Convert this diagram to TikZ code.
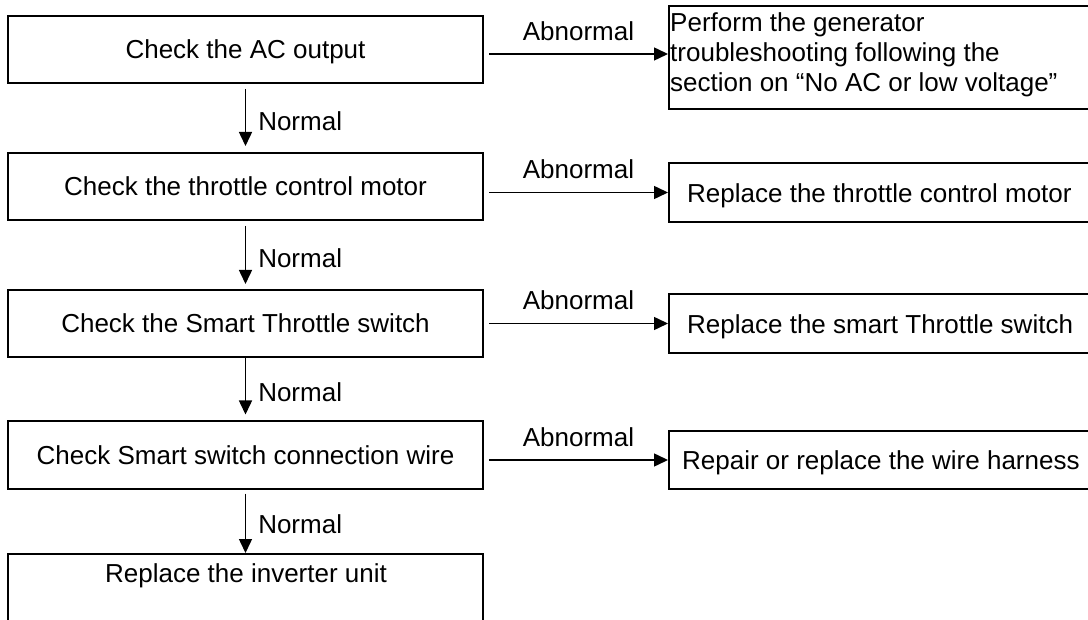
\documentclass[tikz,border=0pt]{standalone}
\usepackage{fontspec}
\setmainfont{Liberation Sans}
\usetikzlibrary{arrows.meta}
\begin{document}
\begin{tikzpicture}[x=1pt,y=-1pt,font=\fontsize{26}{30}\selectfont,
  lbox/.style={draw, line width=2pt, minimum width=475pt, minimum height=67pt, inner sep=0pt, text height=18.6pt, text depth=0pt},
  rbox/.style={draw, line width=2pt, anchor=north west, minimum width=600pt, inner sep=0pt},
  txt/.style={inner sep=0pt, anchor=base west},
  flow/.style={line width=1.5pt, -{Triangle[length=14pt,width=13pt]}},
  lab/.style={inner sep=0pt, anchor=base}]
\clip (0,0) rectangle (1088,620);
\fill[white] (0,0) rectangle (1088,620);
% left column
\node[lbox] (c1) at (245.5,49.5) {Check the AC output};
\node[lbox] (c2) at (245.5,186.5) {Check the throttle control motor};
\node[lbox] (c3) at (245.5,323.5) {Check the Smart Throttle switch};
\node[lbox] (c4) at (245.5,455) {Check Smart switch connection wire};
\node[lbox, minimum height=100pt, anchor=north] (c5) at (245.5,553) {};
\node[lab] (t5) at (246,582) {Replace the inverter unit};
% right column
\node[rbox, minimum height=103pt] (r1) at (668,5) {};
\node[inner sep=0pt, anchor=north west, align=left] (t1) at (670,12) {Perform the generator\\troubleshooting following the\\section on “No AC or low voltage”};
\node[rbox, minimum height=59pt] (r2) at (668,162) {};
\node[txt] (t2) at (687,203) {Replace the throttle control motor};
\node[rbox, minimum height=59pt] (r3) at (668,293) {};
\node[txt] (t3) at (687,334) {Replace the smart Throttle switch};
\node[rbox, minimum height=58pt] (r4) at (668,430) {};
\node[txt] (t4) at (682,470) {Repair or replace the wire harness};
% abnormal arrows
\draw[flow] ([xshift=5pt,yshift=3.5pt]c1.east |- r1.west) -- ([yshift=3.5pt]r1.west)
  node[lab, midway, yshift=13.5pt] {Abnormal};
\draw[flow] ([xshift=5pt]c2.east |- r2.west) -- (r2.west)
  node[lab, midway, yshift=13.5pt] {Abnormal};
\draw[flow] ([xshift=5pt]c3.east |- r3.west) -- (r3.west)
  node[lab, midway, yshift=13.5pt] {Abnormal};
\draw[flow] ([xshift=5pt]c4.east |- r4.west) -- (r4.west)
  node[lab, midway, yshift=13.5pt] {Abnormal};
% normal arrows
\draw[flow, shorten <=5pt, shorten >=6pt] (c1.south) -- (c2.north)
  node[midway, anchor=base west, inner sep=0pt, xshift=12pt, yshift=-12.5pt] {Normal};
\draw[flow, shorten <=5pt, shorten >=5pt] (c2.south) -- (c3.north)
  node[midway, anchor=base west, inner sep=0pt, xshift=12pt, yshift=-12.5pt] {Normal};
\draw[flow, shorten >=6pt] (c3.south) -- (c4.north)
  node[midway, anchor=base west, inner sep=0pt, xshift=12pt, yshift=-12.5pt] {Normal};
\draw[flow, shorten <=4pt] (c4.south) -- (c5.north)
  node[midway, anchor=base west, inner sep=0pt, xshift=12pt, yshift=-12.5pt] {Normal};
\end{tikzpicture}
\end{document}
